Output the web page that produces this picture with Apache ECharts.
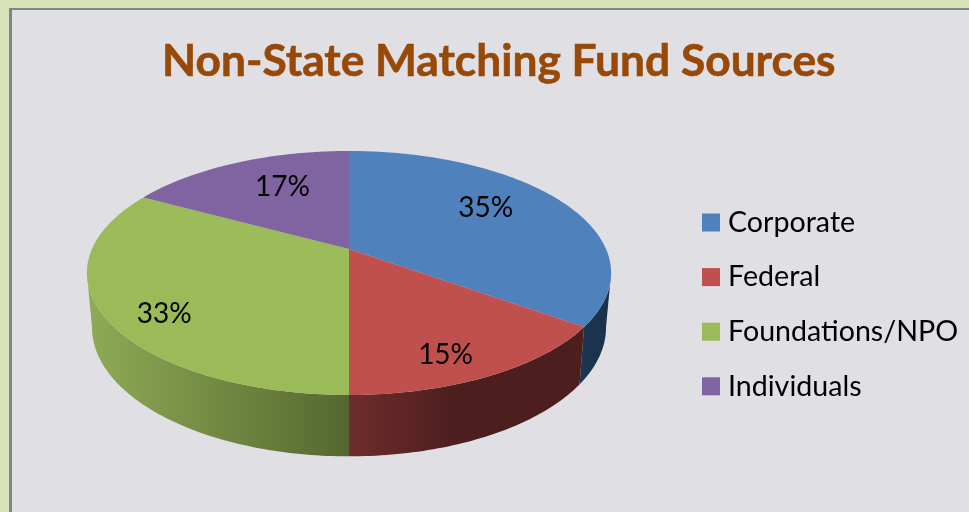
<!DOCTYPE html>
<html>
<head>
<meta charset="utf-8">
<style>
  html, body { margin: 0; padding: 0; background: #d8e3ba; }
  #chart { width: 969px; height: 512px; }
</style>
<script src="https://cdn.jsdelivr.net/npm/echarts@6/dist/echarts.min.js"></script>
</head>
<body>
<div id="chart"></div>
<script>
const categories = ["Corporate", "Federal", "Foundations/NPO", "Individuals"];
const shares = [35, 15, 33, 17];
const sliceColors = ["#4f81bd", "#c0504d", "#9bbb59", "#8064a2"];
const wallStops = [
  ["#1c3653", "#1a3049"],
  ["#6f2c2c", "#4c1e1e"],
  ["#8fab56", "#55672f"],
  ["#8064a2", "#8064a2"]
];
// pixel nudges for the percent labels, they don't sit on a common radius
const labelNudge = [[-4, -8], [11, 29], [-31, 23], [10, -3]];

// tilted disc: perspective projection of a unit circle
const cx = 349;
const persp = -0.1967;
const topFace = { y: 249, rx: 257, ry: 117.3 };
const bottomFace = { y: 302, rx: 252, ry: 124 };
const labelFont = "Lato";

function project(face, u, v) {
  const d = 1 + persp * v;
  return [cx + face.rx * u / d, face.y + face.ry * v / d];
}

// deg is clockwise from 12 o'clock
function rim(face, deg) {
  const a = deg * Math.PI / 180;
  return project(face, Math.sin(a), -Math.cos(a));
}

function arc(face, from, to) {
  const pts = [];
  const steps = Math.max(1, Math.ceil(Math.abs(to - from)));
  for (let i = 0; i <= steps; i++) {
    pts.push(rim(face, from + (to - from) * i / steps));
  }
  return pts;
}

const total = shares.reduce((a, b) => a + b, 0);
const wallFrom = Math.acos(persp) * 180 / Math.PI;
const wallTo = 360 - wallFrom;

function sliceRenderer(idx) {
  return function () {
    const before = shares.slice(0, idx).reduce((a, b) => a + b, 0);
    const start = before / total * 360;
    const end = (before + shares[idx]) / total * 360;
    const children = [];

    // side wall, only the part facing the viewer
    const wa = Math.max(start, wallFrom);
    const wb = Math.min(end, wallTo);
    if (wb > wa) {
      const upper = arc(topFace, wa, wb);
      const lower = arc(bottomFace, wa, wb).reverse();
      const xs = upper.concat(lower).map(p => p[0]);
      const x0 = Math.min.apply(null, xs);
      const x1 = idx === 1 ? cx + 110 : Math.max.apply(null, xs);
      children.push({
        type: "polygon",
        z2: 1,
        shape: { points: upper.concat(lower) },
        style: {
          fill: {
            type: "linear", x: x0, y: 0, x2: x1, y2: 0, global: true,
            colorStops: [
              { offset: 0, color: wallStops[idx][0] },
              { offset: 1, color: wallStops[idx][1] }
            ]
          }
        }
      });
    }

    // top face
    const apex = [cx, topFace.y];
    children.push({
      type: "polygon",
      z2: 2,
      shape: { points: [apex].concat(arc(topFace, start, end)) },
      style: { fill: sliceColors[idx] }
    });

    // percent label
    const mid = (start + end) / 2 * Math.PI / 180;
    const lp = project(topFace, 0.65 * Math.sin(mid), -0.65 * Math.cos(mid));
    children.push({
      type: "text",
      z2: 3,
      style: {
        x: lp[0] + labelNudge[idx][0],
        y: lp[1] + labelNudge[idx][1],
        text: shares[idx] + "%",
        fill: "#000",
        fontFamily: labelFont,
        fontSize: 28,
        align: "center",
        verticalAlign: "middle"
      }
    });
    return { type: "group", children: children };
  };
}

const chart = echarts.init(document.getElementById("chart"), null, { renderer: "canvas" });

chart.setOption({
  animation: false,
  backgroundColor: "#d8e3ba",
  title: {
    text: "Non-State Matching Fund Sources",
    left: 157,
    top: 35,
    textStyle: {
      color: "#984807", fontFamily: labelFont, fontWeight: "bold", fontSize: 44.3,
      textBorderColor: "#984807", textBorderWidth: 0.6
    }
  },
  legend: {
    orient: "vertical",
    left: 702,
    top: 208,
    padding: 0,
    itemWidth: 18,
    itemHeight: 18,
    itemGap: 25.6,
    icon: "rect",
    data: categories,
    textStyle: { color: "#000", fontFamily: labelFont, fontSize: 28.6, padding: [0, 0, 0, 3] }
  },
  graphic: [
    {
      type: "rect", z: -10, silent: true,
      shape: { x: 9, y: 8, width: 980, height: 520 },
      style: { fill: "#848484" }
    },
    {
      type: "rect", z: -9, silent: true,
      shape: { x: 12, y: 10, width: 980, height: 520 },
      style: { fill: "#e0dfe4" }
    }
  ],
  series: categories.map((name, i) => ({
    type: "custom",
    name: name,
    coordinateSystem: "none",
    silent: true,
    itemStyle: { color: sliceColors[i] },
    data: [shares[i]],
    renderItem: sliceRenderer(i)
  }))
});

window.addEventListener("resize", () => chart.resize());
</script>
</body>
</html>
